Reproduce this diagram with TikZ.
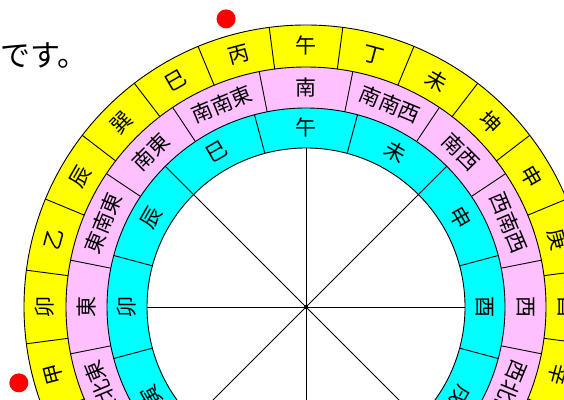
\documentclass[tikz,border=0pt]{standalone}
\usepackage{fontspec}
\setmainfont{Noto Sans CJK JP}
\usetikzlibrary{positioning}
\definecolor{ringyellow}{RGB}{255,255,0}
\definecolor{ringpink}{RGB}{255,192,255}
\definecolor{ringcyan}{RGB}{0,255,255}
\tikzset{
    ringline/.style={black, line width=0.9pt},
    ringlabel/.style={inner sep=0pt, font=\fontsize{21}{21}\selectfont},
    marker/.style={circle, fill=red, inner sep=0pt, minimum size=19pt}
}

\begin{document}
\begin{tikzpicture}[x=1pt,y=1pt]
  \useasboundingbox (0,0) rectangle (564,399);
  \clip (0,0) rectangle (564,399);
  \node[anchor=west, inner sep=0pt, font=\fontsize{30}{30}\selectfont] (desu) at (0,343) {です。};
  \begin{scope}[shift={(306,92)}]
    \fill[ringyellow] (0,0) circle (282);
    \fill[ringpink] (0,0) circle (240);
    \fill[ringcyan] (0,0) circle (199);
    \fill[white] (0,0) circle (159);
    \foreach \r in {282,240,199,159} \draw[ringline] (0,0) circle (\r);
    \foreach \i in {0,...,23} \draw[ringline] (\i*15+7.5:240) -- (\i*15+7.5:282);
    \foreach \i in {0,...,15} \draw[ringline] (\i*22.5+11.25:199) -- (\i*22.5+11.25:240);
    \foreach \i in {0,...,11} \draw[ringline] (\i*30+15:159) -- (\i*30+15:199);
    \foreach \t [count=\i from 0] in {午,丁,未,坤,申,庚,酉,辛,戌,乾,亥,壬,子,癸,丑,艮,寅,甲,卯,乙,辰,巽,巳,丙}
      \node[ringlabel, rotate={-15*\i}] (y\i) at ({90-15*\i}:261) {\t};
    \foreach \t [count=\i from 0] in {南,南南西,南西,西南西,西,西北西,北西,北北西,北,北北東,北東,東北東,東,東南東,南東,南南東}
      \node[ringlabel, rotate={-22.5*\i}] (p\i) at ({90-22.5*\i}:219.5) {\t};
    \foreach \t [count=\i from 0] in {午,未,申,酉,戌,亥,子,丑,寅,卯,辰,巳}
      \node[ringlabel, rotate={-30*\i}] (c\i) at ({90-30*\i}:179) {\t};
    \node[circle, fill=black, inner sep=0pt, minimum size=4pt] (o) at (0,0) {};
    \foreach \a in {0,45,...,315} \draw[ringline] (o.center) -- (\a:159);
    \node[marker] (m1) at (105.5:299) {};
    \node[marker] (m2) at (194.8:297) {};
  \end{scope}
\end{tikzpicture}
\end{document}
